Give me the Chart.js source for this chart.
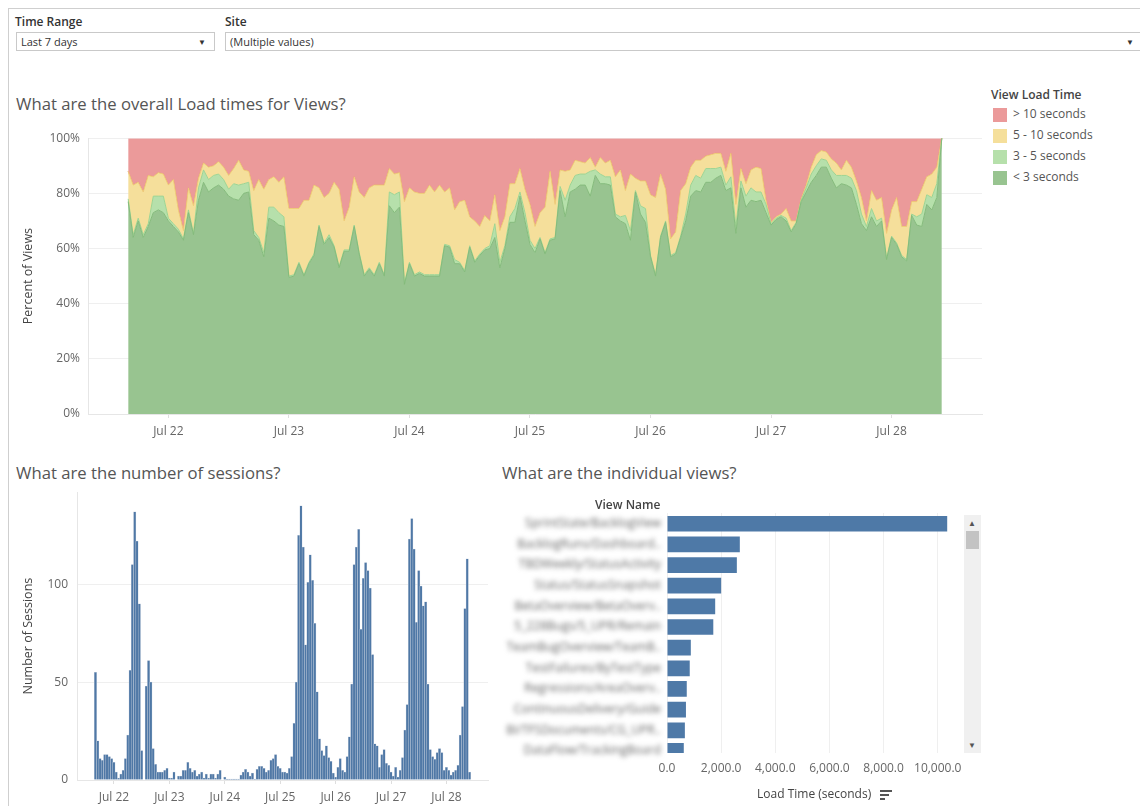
<!DOCTYPE html>
<html>
<head>
<meta charset="utf-8">
<title>View Load Dashboard</title>
<script src="https://cdn.jsdelivr.net/npm/chart.js@4.4.1/dist/chart.umd.min.js"></script>
<style>
  html, body { margin: 0; padding: 0; background: #fff; }
  body { width: 1140px; height: 806px; position: relative; overflow: hidden; font-family: "Open Sans", Lato, sans-serif; color: #333; }
  .frame { position: absolute; left: 8px; top: 8px; right: -2px; bottom: -2px; border-top: 1px solid #cfcfcf; border-left: 1px solid #cfcfcf; }
  .flabel { position: absolute; font-size: 12px; font-weight: 600; color: #333; }
  .dd { position: absolute; height: 17px; border: 1px solid #c9c9c9; font-size: 11px; line-height: 17px; padding-left: 4px; color: #333; box-sizing: content-box; }
  .dd .arr { position: absolute; right: 8px; top: 0; font-size: 8px; color: #333; }
  .title { position: absolute; font-size: 16.7px; color: #555; white-space: nowrap; }
  .box { position: absolute; }
  .legend { position: absolute; left: 991px; top: 86px; font-size: 12px; color: #555; }
  .legend .head { font-weight: 600; color: #444; margin-bottom: 4px; }
  .legend .row { position: relative; height: 21px; line-height: 14px; padding-left: 22px; }
  .legend .sw { position: absolute; left: 2px; top: 1px; width: 14px; height: 14px; }
  .scroll { position: absolute; left: 964px; top: 515px; width: 17px; height: 238px; background: #f0f0f0; }
  .scroll .thumb { position: absolute; left: 2px; top: 16px; width: 13px; height: 18px; background: #c3c3c3; }
  .scroll .up, .scroll .down { position: absolute; left: 4px; font-size: 8px; color: #555; }
  .scroll .up { top: 2px; }
  .scroll .down { bottom: 3px; }
  .vhead { position: absolute; left: 595px; top: 496px; font-size: 12px; font-weight: 600; color: #444; }
  .sorticon { position: absolute; left: 880px; top: 790px; width: 12px; }
  .sorticon div { height: 2px; background: #555; margin-bottom: 2px; }
</style>
</head>
<body>
<div class="frame"></div>

<div class="flabel" style="left:15px;top:13px">Time Range</div>
<div class="dd" style="left:16px;top:32px;width:193px">Last 7 days<span class="arr">&#9660;</span></div>
<div class="flabel" style="left:225px;top:13px">Site</div>
<div class="dd" style="left:225px;top:32px;width:912px">(Multiple values)<span class="arr">&#9660;</span></div>

<div class="title" style="left:16px;top:92px">What are the overall Load times for Views?</div>
<div class="box" style="left:18px;top:123px;width:972px;height:324px"><canvas id="loadChart"></canvas></div>

<div class="legend">
  <div class="head">View Load Time</div>
  <div class="row"><span class="sw" style="background:#eb9a9a"></span>&gt; 10 seconds</div>
  <div class="row"><span class="sw" style="background:#f5df9b"></span>5 - 10 seconds</div>
  <div class="row"><span class="sw" style="background:#b6e0ab"></span>3 - 5 seconds</div>
  <div class="row"><span class="sw" style="background:#98c490"></span>&lt; 3 seconds</div>
</div>

<div class="title" style="left:16px;top:461px">What are the number of sessions?</div>
<div class="box" style="left:18px;top:476px;width:478px;height:330px"><canvas id="sessionChart"></canvas></div>

<div class="title" style="left:502px;top:461px">What are the individual views?</div>
<div class="vhead">View Name</div>
<div class="box" style="left:495px;top:495px;width:475px;height:311px"><canvas id="viewChart"></canvas></div>
<div class="scroll"><span class="up">&#9650;</span><div class="thumb"></div><span class="down">&#9660;</span></div>
<div class="sorticon"><div style="width:12px"></div><div style="width:9px"></div><div style="width:5px"></div></div>

<script>
// ---------------- data ----------------
// hourly buckets, hour 0 = Jul 22 00:00
const firstHour = -8;
const dayTicks = [0, 24, 48, 72, 96, 120, 144];
const dayLabels = ['Jul 22', 'Jul 23', 'Jul 24', 'Jul 25', 'Jul 26', 'Jul 27', 'Jul 28'];

// percent of views loading in under 3 / 5 / 10 seconds
const under3 = [
  77, 64, 70, 64, 68, 73, 74, 73, 70, 68, 66, 63, 73, 65, 77.5, 84, 80.5, 82, 83, 81.5, 79, 78, 77.5, 80, 80.5,
  65, 63, 57, 71, 70, 68.5, 68, 49.5, 50, 54.5, 50, 54.5, 57.5, 68, 61.5, 64, 60.5, 53, 59, 59, 68, 58, 50, 52.5,
  50, 54.5, 50, 75.5, 73, 75, 47, 54.5, 50, 51, 50, 50, 50, 50, 61, 60.5, 54.5, 54.5, 51.5, 60.5, 55, 57.5, 59.5,
  60, 64, 53, 60, 69.5, 69.5, 79, 70, 61.5, 58.5, 63.5, 58, 63, 63.5, 81, 71.5, 80.5, 81.5, 83, 83, 79, 86.5, 83.5,
  83.5, 83, 71.5, 70, 69, 63, 80.5, 72.5, 69.5, 57, 50, 64, 69.5, 57, 58, 64, 70, 79, 81, 80.5, 84, 84, 85.5, 86.5,
  81, 82, 65.5, 82, 75, 77.5, 77, 77.5, 73, 68.5, 70.5, 71.5, 70, 66, 69, 77, 80.5, 84, 86.5, 89.5, 89.5, 85.5, 82,
  83.5, 83, 82, 76, 69, 66.5, 71.5, 68, 70, 56, 64, 61.5, 57, 55.5, 72, 68.5, 68, 76, 74, 78.5, 100
];
const under5 = [
  78, 65, 71, 65, 69, 79, 79, 79, 71, 69, 67, 63.5, 74, 65.5, 82, 88.5, 85, 86.5, 87, 85, 81.5, 83.5, 83, 83.5, 84,
  66.5, 64, 58.5, 75, 75, 73, 71.5, 50, 50.5, 55, 50.5, 55, 58, 68.5, 62, 65, 61, 53.5, 59.5, 59.5, 68.5, 58.5, 50.5, 53,
  50.5, 55, 50.5, 80.5, 79.5, 80.5, 47.5, 55, 50.5, 51.5, 50.5, 50.5, 50.5, 50.5, 61.5, 61, 56, 55, 52, 61, 55.5, 58, 60,
  61, 69, 55, 61, 71.5, 74.5, 80.5, 73, 63, 60, 64, 58.5, 63.5, 64, 82.5, 77.5, 83, 86.5, 87, 87, 88, 88.5, 87,
  86, 86, 72.5, 71.5, 72, 66.5, 81, 75.5, 74.5, 57.5, 50.5, 64.5, 70, 57.5, 58.5, 64.5, 72.5, 83, 86.5, 85.5, 89, 89, 89, 89.5,
  83, 86, 68, 84.5, 79, 82, 80.5, 80.5, 76, 69, 71, 72, 71, 66.5, 69.5, 77.5, 82, 87, 90, 92.5, 92, 88.5, 86.5,
  86.5, 86.5, 85.5, 81, 72.5, 68, 74.5, 70, 71, 56.5, 64.5, 62, 57.5, 56, 72.5, 71.5, 72.5, 79.5, 78.5, 83.5, 100
];
const under10 = [
  88, 83, 84, 80.5, 86.5, 86, 87.5, 87, 83, 85, 74, 66.5, 82, 75.5, 85.5, 91, 89.5, 90, 91.5, 89.5, 86.5, 89, 92, 88.5, 88,
  81, 85, 81.5, 85, 86, 84, 86, 74.5, 74.5, 74.5, 77.5, 77.5, 83, 82, 78.5, 80, 84, 81.5, 70, 75, 86, 80.5, 78.5, 82,
  83, 83, 83, 89, 87, 87.5, 77, 82, 80.5, 80, 80, 83, 80.5, 83, 80.5, 82, 74, 77, 77.5, 71.5, 70, 68, 72,
  70, 79.5, 66.5, 71.5, 83.5, 83.5, 89, 81.5, 76, 68, 73, 75, 88, 76, 88.5, 88, 88.5, 92, 91.5, 91, 93, 89.5, 93,
  91, 92, 86, 88.5, 81, 87, 85.5, 84.5, 84.5, 79.5, 78.5, 87, 81.5, 63.5, 66, 81, 83.5, 89.5, 92, 92, 93.5, 94, 94.5, 94.5,
  88, 94.5, 76, 89, 83.5, 88.5, 89.5, 89, 77.5, 69.5, 71.5, 72.5, 74.5, 70, 70, 78, 83, 89.5, 94, 95.5, 95, 92.5, 91,
  88.5, 92, 89.5, 84.5, 78.5, 70, 81, 77.5, 78.5, 65.5, 74, 78.5, 68, 68, 77, 77, 81.5, 86, 87, 89.5, 100
];

// number of sessions per hour
const sessions = [
  55, 20, 11, 10, 13, 13, 12, 11, 9, 4, 1, 3, 5, 11, 23, 56, 110, 137, 122, 90, 15, 0, 48, 61, 50,
  16, 8, 4, 4, 4, 5, 6, 1, 1, 4, 0, 2, 2, 5, 5, 9, 6, 4, 5, 2, 3, 4, 1, 3, 1, 3, 3,
  1, 3, 5, 0, 1.5, 0.5, 0.5, 0.5, 0.5, 0.5, 0.5, 2.5, 4, 5.5, 4, 2, 3.5, 0.5, 5.5, 7, 7, 6, 4, 5, 10, 11, 13,
  7, 6, 4, 4, 3.5, 6, 12, 29, 50, 125, 140, 119, 69, 101, 115, 102, 80, 45, 21, 15, 12.5, 17.5, 11.5, 9.5, 3.5, 1.5, 6.5,
  11, 5, 4, 12, 22, 49, 110, 119, 128, 77, 103, 111, 107, 98, 64, 18.5, 17.5, 6.5, 13, 15.5, 8.5, 7.5, 4, 2, 6.5, 1.5,
  5, 11.5, 25.5, 38.5, 123, 133.5, 118, 80.5, 107, 99, 89, 91, 49, 15.5, 12, 10.5, 14, 16, 14, 5, 6.5, 5, 2.5, 4,
  5, 7.5, 23, 37.5, 87.5, 113, 4
];

// slowest views, total load time in seconds
const viewNames = [
  'SprintState/BacklogView', 'BacklogRuns/Dashboard..', 'TBDWeekly/StatusActivity', 'Status/StatusSnapshot',
  'BetaOverview/BetaOverv..', '5_228Bugs/5_UPR/Remain', 'TeamBugOverview/TeamB..', 'TestFailures/ByTestType',
  'Regressions/AreaOverv..', 'ContinuousDelivery/Guide', 'BI/TFSDocuments/CG_UPR..', 'DataFlow/TrackingBoard'
];
const viewLoadSecs = [10350, 2690, 2580, 2000, 1780, 1710, 880, 840, 730, 700, 660, 620];
const loadTicks = [0, 2000, 4000, 6000, 8000, 10000];

// ---------------- charts ----------------
Chart.defaults.font.family = '"Open Sans", Lato, sans-serif';
Chart.defaults.color = '#666';
Chart.defaults.animation = false;
Chart.defaults.plugins.legend.display = false;
Chart.defaults.plugins.tooltip.enabled = false;

const toPoints = arr => arr.map((v, i) => ({ x: firstHour + i, y: v }));

const dayAxis = (height) => ({
  type: 'linear',
  min: -16,
  max: 162,
  offset: false,
  afterBuildTicks: s => { s.ticks = dayTicks.map(v => ({ value: v })); },
  ticks: {
    autoSkip: false, maxRotation: 0, padding: 6,
    font: { size: 12 }, color: '#666',
    callback: (v, i) => dayLabels[i]
  },
  grid: { offset: false, drawOnChartArea: false, tickLength: 4, color: '#dedede' },
  border: { color: '#e6e6e6' },
  afterFit: s => { s.height = height; }
});

const axisTitle = text => ({
  display: true, text, color: '#444', font: { size: 12.5 }, padding: { top: 3, bottom: 0 }
});

//---------------------------- load time area chart ------------------
new Chart(document.getElementById('loadChart'), {
  type: 'line',
  data: {
    datasets: [
      { label: '< 3 seconds', data: toPoints(under3), fill: 'origin',
        backgroundColor: '#98c490', borderColor: '#85bb7c' },
      { label: '3 - 5 seconds', data: toPoints(under5), fill: '-1',
        backgroundColor: '#b6e0ab', borderColor: '#9fd492' },
      { label: '5 - 10 seconds', data: toPoints(under10), fill: '-1',
        backgroundColor: '#f5df9b', borderColor: '#efcd79' },
      { label: '> 10 seconds', data: toPoints(under10), fill: 'end',
        backgroundColor: '#eb9a9a', borderColor: '#e27a7b' }
    ]
  },
  options: {
    responsive: true,
    maintainAspectRatio: false,
    layout: { padding: { top: 5, right: 8, left: 0, bottom: 0 } },
    elements: { point: { radius: 0 }, line: { borderWidth: 1, tension: 0 } },
    scales: {
      x: dayAxis(33),
      y: {
        min: 0, max: 100,
        ticks: { stepSize: 20, padding: 8, font: { size: 12 }, color: '#666', callback: v => v + '%' },
        grid: { color: '#efefef', drawTicks: false },
        border: { color: '#e6e6e6' },
        title: axisTitle('Percent of Views'),
        afterFit: s => { s.width = 70; }
      }
    }
  }
});

//---------------------------- sessions bar chart ------------------
new Chart(document.getElementById('sessionChart'), {
  type: 'bar',
  data: {
    datasets: [{
      label: 'Number of Sessions',
      data: toPoints(sessions),
      backgroundColor: '#4f78a6',
      borderColor: 'rgba(190,202,218,1)',
      borderWidth: 0.5,
      barPercentage: 1,
      categoryPercentage: 1
    }]
  },
  options: {
    responsive: true,
    maintainAspectRatio: false,
    layout: { padding: { top: 0, right: 8, left: 0, bottom: 0 } },
    scales: {
      x: dayAxis(26),
      y: {
        min: 0, max: 147,
        ticks: { stepSize: 50, includeBounds: false, padding: 9, font: { size: 12 }, color: '#666' },
        grid: { color: '#efefef', drawTicks: false },
        border: { color: '#e6e6e6' },
        title: axisTitle('Number of Sessions'),
        afterFit: s => { s.width = 59; }
      }
    }
  }
});

//---------------------------- individual views ------------------
// names are shown softened, drawn next to each bar row
const blurredNames = {
  id: 'blurredNames',
  afterDraw(chart) {
    const { ctx, chartArea } = chart;
    const y = chart.scales.y;
    ctx.save();
    ctx.filter = 'blur(2.8px)';
    ctx.font = '12px "Open Sans", Lato, sans-serif';
    ctx.fillStyle = '#666';
    ctx.textAlign = 'right';
    ctx.textBaseline = 'middle';
    viewNames.forEach((name, i) => {
      ctx.fillText(name, chartArea.left - 6, y.getPixelForValue(i));
    });
    ctx.restore();
  }
};

new Chart(document.getElementById('viewChart'), {
  type: 'bar',
  data: {
    datasets: [{
      label: 'Load Time (seconds)',
      data: viewLoadSecs.map((v, i) => ({ x: v, y: i })),
      backgroundColor: '#4e79a7',
      barPercentage: 0.76,
      categoryPercentage: 1
    }]
  },
  options: {
    indexAxis: 'y',
    responsive: true,
    maintainAspectRatio: false,
    layout: { padding: { top: 18, right: 7, left: 0, bottom: 0 } },
    scales: {
      y: {
        type: 'linear', reverse: true, min: -0.52, max: 11.1,
        offset: false, display: false,
        afterFit: s => { s.width = 172; }
      },
      x: {
        min: 0, max: 10870,
        afterBuildTicks: s => { s.ticks = loadTicks.map(v => ({ value: v })); },
        ticks: {
          autoSkip: false, padding: 8, maxRotation: 0,
          font: { size: 12 }, color: '#666',
          callback: v => v.toLocaleString('en-US', { minimumFractionDigits: 1, maximumFractionDigits: 1 })
        },
        grid: { color: '#efefef', drawTicks: false },
        border: { display: false },
        title: { display: true, text: 'Load Time (seconds)', color: '#444', font: { size: 12 }, padding: { top: 7 } },
        afterFit: s => { s.height = 53; }
      }
    }
  },
  plugins: [blurredNames]
});
</script>
</body>
</html>
